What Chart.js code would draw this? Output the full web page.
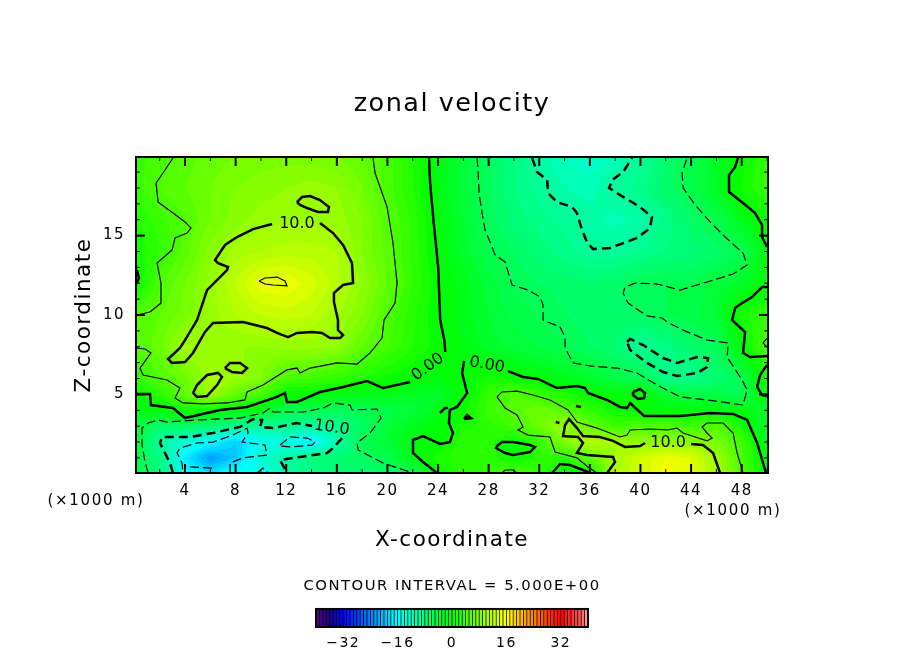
<!DOCTYPE html>
<html>
<head>
<meta charset="utf-8">
<title>zonal velocity</title>
<script src="https://cdn.jsdelivr.net/npm/chart.js@4/dist/chart.umd.min.js"></script>
<style>
  html, body { margin: 0; padding: 0; background: #fff; }
  #wrap { position: relative; width: 904px; height: 654px; overflow: hidden; }
  canvas { position: absolute; left: 0; }
  #mainChart { top: 0; }
  #barChart { top: 570px; }
</style>
</head>
<body>
<div id="wrap">
  <canvas id="mainChart" width="904" height="654"></canvas>
  <canvas id="barChart" width="904" height="84"></canvas>
</div>
<script>
/*** Text ***/
const titleText = 'zonal velocity';
const xTitle = 'X-coordinate';
const zTitle = 'Z-coordinate';
const unitText = '(×1000 m)';
const intervalText = 'CONTOUR INTERVAL = 5.000E+00';

/*** Axes ***/
const xMin = 0.125, xMax = 50.08, zMin = 0.05, zMax = 19.95;
const xLabelTicks = [4, 8, 12, 16, 20, 24, 28, 32, 36, 40, 44, 48];
const xMinorTicks = [2, 6, 10, 14, 18, 22, 26, 30, 34, 38, 42, 46, 50];
const zLabelTicks = [5, 10, 15];
const zMinorTicks = [1, 2, 3, 4, 6, 7, 8, 9, 11, 12, 13, 14, 16, 17, 18, 19];
const barLabelTicks = [-32, -16, 0, 16, 32];

/*** Colour key ***/
const paletteValues = [-40, -36, -32, -16, 0, 16, 24, 32, 38, 40];
const paletteColors = [[88, 0, 136], [30, 0, 130], [0, 0, 255], [0, 255, 255], [0, 255, 0], [255, 255, 0], [255, 128, 0], [255, 0, 0], [255, 90, 90], [255, 170, 170]];
const barLevels = [-39.5, -38.5, -37.5, -36.5, -35.5, -34.5, -33.5, -32.5, -31.5, -30.5, -29.5, -28.5, -27.5, -26.5, -25.5, -24.5, -23.5, -22.5, -21.5, -20.5, -19.5, -18.5, -17.5, -16.5, -15.5, -14.5, -13.5, -12.5, -11.5, -10.5, -9.5, -8.5, -7.5, -6.5, -5.5, -4.5, -3.5, -2.5, -1.5, -0.5, 0.5, 1.5, 2.5, 3.5, 4.5, 5.5, 6.5, 7.5, 8.5, 9.5, 10.5, 11.5, 12.5, 13.5, 14.5, 15.5, 16.5, 17.5, 18.5, 19.5, 20.5, 21.5, 22.5, 23.5, 24.5, 25.5, 26.5, 27.5, 28.5, 29.5, 30.5, 31.5, 32.5, 33.5, 34.5, 35.5, 36.5, 37.5, 38.5, 39.5];

/*** Velocity, one row per height ***/
const gridX = [0, 2, 4, 6, 8, 10, 12, 14, 16, 18, 20, 22, 24, 26, 28, 30, 32, 34, 36, 38, 40, 42, 44, 46, 48, 50];
const gridZ = [0, 1, 2, 3, 4, 5, 6, 8, 10, 12, 14, 16, 18, 20];
const uZ0 = [-4, -7.5, -15.3, -18, -14, -15.5, -10, -8, -7, -6.5, -6, -5, 0, 2.5, 3, 5.2, 3, -0.5, 0, 11, 13, 15.5, 14, 10.5, 5, 0];
const uZ1 = [-4, -8, -17, -22, -19.5, -13, -10.5, -8, -7, -6, -4.8, -1, 1.5, 3, 3, 0.1, 2.5, 2.5, 6, 10, 13, 15, 14, 10, 4.5, -1];
const uZ2 = [-3, -10, -13.5, -16, -19, -15, -14.5, -17, -11, -4.7, -3, -1, -0.1, 3, 2.5, 0.2, 3.5, 8, 11.5, 10, 9, 9.3, 8.5, 7.5, 4, -2];
const uZ3 = [-3.5, -6.5, -6.5, -7, -9.5, -10, -9, -10, -9, -6, -3.5, -1.5, -0.5, 1.5, 2.5, 4.4, 6.5, 9.8, 6, 3.8, 4.7, 4.8, 3.5, 5.5, 1, -3];
const uZ4 = [-1.5, -0.3, 1, 1, -0.5, -1.5, -4.9, -4.8, -5.4, -5.2, -4.3, -3.5, -1.5, 0.7, 3.5, 5.5, 7, 5.3, 3, 0.7, 0, -0.5, -0.5, -0.5, -0.7, -3];
const uZ5 = [0, 2.5, 6, 10, 6, 4.5, 0.1, 0, -1, -1.5, -1.5, -2, -2.5, -0.3, 3, 5.3, 3.5, 1.5, 0, -0.5, 0.3, -3, -4, -4.5, -5.2, 0.3];
const uZ6 = [3, 5, 6.5, 10.3, 9.5, 8, 4.5, 4, 3, 2, 0.5, 0.1, -1, 0, 1.5, 0.6, -0.5, -1.5, -2.5, -4.3, -4.9, -8.5, -9, -7, -5, 1.5];
const uZ8 = [5, 6.5, 10.3, 9.5, 9, 9, 9.3, 9.3, 9, 6, 4.2, 2, 0.5, -1, -2.5, -3.5, -4, -5, -6, -7, -9.5, -8.5, -6.5, -5.5, -0.3, 5];
const uZ10 = [5, 6, 7.5, 9.5, 11, 12, 12.5, 12, 10.2, 8, 4.8, 2.3, 0.1, -1.5, -3, -4.3, -5, -6, -6.5, -6.5, -6, -5, -4.5, -3, 1.5, 3];
const uZ12 = [0, 4.8, 7, 9.5, 12, 14.8, 15, 13.5, 11.5, 9, 6, 3, 0.2, -1.5, -3.5, -5.2, -6, -6.5, -7, -6.5, -5, -5, -5, -3.5, -2.5, -0.3];
const uZ14 = [1, 3, 5.5, 8.5, 10.5, 11, 11.5, 11.5, 11, 8, 5.5, 2.7, -0.3, -2.5, -4.7, -6, -7.5, -8.5, -9.5, -9.7, -9, -8, -7.5, -6.5, -5, -0.5];
const uZ16 = [2, 3.5, 5, 7, 8.5, 9.5, 9.8, 9.8, 9.6, 8, 5.3, 2.7, -0.5, -3, -5.5, -7.5, -8.5, -9.5, -10.5, -11.5, -10.5, -8.5, -6.5, -4.5, -1.5, 0.5];
const uZ18 = [3.5, 5, 6, 7, 8, 8.5, 9, 9.5, 9, 7, 4.5, 2, -1, -3.5, -5.5, -8, -9.5, -11, -11.5, -9.5, -8.5, -6.5, -4.5, -2, 1, 3.5];
const uZ20 = [3.5, 4.5, 5.5, 6.5, 7, 7.5, 7.5, 7.5, 7, 6, 4.5, 2, -1, -3.5, -5.5, -8, -10.5, -12, -13, -12, -9.5, -7, -4.5, -2.5, 0.5, 3];
const velocityRows = [uZ0, uZ1, uZ2, uZ3, uZ4, uZ5, uZ6, uZ8, uZ10, uZ12, uZ14, uZ16, uZ18, uZ20];

/*** Contour lines in km, [x, z] ***/
// level 0, thick solid
const zeroLeft = [[0.2,5.02],[1.23,5.02],[1.31,4.33],[3.05,4.14],[4,3.51],[6.77,4.02],[8.9,4.21],[11.27,4.84],[11.9,5.09],[12.06,4.52],[12.85,4.52],[14.67,5.15],[16.49,5.47],[18.39,5.84],[19.65,5.4],[21.79,5.78]];
const zeroUp = [[24.57,7.67],[24.49,8.43],[24.17,9.68],[24.01,13.02],[23.69,15.54],[23.37,18.31],[23.29,19.89]];
const zeroCentre = [[26.06,7.1],[25.9,6.35],[26.3,5.09],[25.5,4.21],[24.94,4.02],[24.86,3.2],[25.18,2.57],[24.94,2],[24.15,1.88],[22.81,2.38],[22.02,2.13],[22.02,1.31],[22.81,0.74],[23.92,0.05]];
const zeroTail = [[24.78,4.14],[24.55,4.14],[24.15,3.83]];
const zeroRight = [[29.53,6.47],[30.72,6.1],[31.9,5.97],[33.4,5.4],[34.98,5.53],[35.62,5.4],[35.85,5.09],[37.36,4.65],[38.39,4.21],[38.94,4.14],[39.18,4.46],[40.29,3.64],[43.14,3.64],[45.5,3.83],[47.32,3.77],[48.43,3.39],[49.22,1.94],[49.85,0.24],[49.93,0.05]];
const zeroLens = [[39.41,5.15],[39.97,5.34],[40.36,5.09],[40.29,4.77],[39.8,4.71],[39.41,4.96],[39.41,5.15]];
const zeroDot = [[26.06,3.45],[26.3,3.7],[26.61,3.51],[26.06,3.45]];
const zeroFloorLens = [[28.58,1.69],[29.05,2],[29.92,2],[31.27,1.81],[31.66,1.69],[31.27,1.37],[29.92,1.18],[29.3,1.31],[28.58,1.62],[28.58,1.69]];
const zeroFloorArc = [[33.01,0.05],[33.64,0.62],[34.43,0.55],[35.46,0.24],[36.01,0.05]];
const zeroTopRight = [[47.71,19.89],[47.48,19.32],[47,18.81],[47,17.74],[48.11,17.05],[49.06,16.42],[49.61,15.67],[49.61,14.91],[50,14.28]];
const zeroEdge = [[50,11.76],[49.61,11.76],[48.82,11.13],[48.03,10.75],[47.48,10.44],[47.24,9.68],[48.27,8.93],[48.11,7.61],[48.66,7.35],[50,7.42]];
const zeroEdgeLens = [[50,6.85],[49.45,6.22],[49.22,5.47],[49.61,4.96],[50,4.9]];
const zeroLeftEdge = [[0.2,12.83],[0.36,12.33],[0.2,12.01]];
const zeroSpeckA = [[34.9,4.27],[35.3,4.2]];
const zeroSpeckB = [[33.3,3.26],[33.6,3.2]];
// level 5, thin solid
const fiveTopLeft = [[3.05,19.89],[2.42,19.13],[1.71,18.31],[1.87,17.11],[3.05,16.42],[4,15.86],[4.47,15.48],[4.16,15.16],[3.21,14.85],[2.97,14.09],[1.79,13.27],[2.1,12.01],[2.1,10.75],[1.23,10.19],[0.2,10]];
const fiveLong = [[18.86,19.89],[19.02,18.94],[19.97,16.8],[20.44,14.53],[20.76,12.01],[20.6,10.75],[19.73,9.68],[19.57,8.55],[18.63,7.61],[17.6,6.91],[16.02,6.98],[13.88,6.66],[13.09,6.35],[12.85,6.66],[12.06,6.54],[10.16,5.59],[8.9,5.15],[8.74,4.65],[7.32,4.46],[5.42,4.4],[3.84,4.46],[3.21,4.77],[3.6,5.4],[2.58,5.91],[0.68,6.22],[0.44,6.66],[1.31,7.61],[0.84,7.86],[0.2,7.92]];
const fiveRight = [[28.66,4.84],[29.05,5.15],[30.24,5.21],[31.5,4.96],[32.85,4.65],[34.28,4.02],[34.98,3.26],[36.56,2.88],[38.39,2.32],[38.94,2.44],[39.18,2.76],[40.75,2.82],[42.1,2.76],[42.89,2.88],[43.37,2.57],[45.26,2.07],[45.66,2.25],[45.26,2.57],[44.87,2.95],[45.26,3.2],[46.53,3.2],[47.32,2.57],[47.64,1.31],[48.11,0.05]];
const fiveLower = [[28.66,4.84],[29.3,4.14],[30.24,3.7],[30.72,2.95],[30.32,2.76],[31.11,2.44],[32.85,2.32],[33.25,1.37],[34.98,1],[35.85,0.43],[36.56,0.05]];
const fiveFloorArc = [[29.05,0.05],[29.3,0.24],[29.92,0.24],[30.24,0.05]];
const fiveEdge = [[50,8.55],[49.69,8.24],[50,7.98]];
// level 10, thick solid
const tenMainEnd = [[14.67,15.79],[15.7,15.16],[16.49,14.41],[17.2,13.27],[17.28,12.01],[16.49,11.89],[15.77,11.38],[15.77,10.82],[16.09,9.68],[16.09,9.05],[16.49,8.74],[16.25,8.55],[15.46,8.55],[14.83,8.87],[14.04,8.93],[12.85,8.87],[12.14,8.61],[11.27,8.87],[10.48,9.18],[8.58,9.56],[6.21,9.5],[5.58,8.93],[4.63,7.61],[4,7.04],[2.97,6.98],[2.66,7.23],[3.6,7.92],[4,8.42],[4.95,9.68],[5.74,11.57],[7.32,12.83],[7.4,13.02],[6.61,13.27],[6.37,13.46],[7.16,14.41],[8.11,14.91],[9.38,15.41],[10.88,15.73]];
const tenTopLens = [[12.85,17.11],[13.25,17.43],[13.88,17.49],[14.67,17.24],[15.38,16.8],[15.3,16.49],[14.51,16.49],[13.64,16.74],[13.09,16.93],[12.85,17.11]];
const tenLensA = [[4.63,5.09],[4.95,5.59],[5.74,6.22],[6.61,6.35],[6.92,6.1],[6.53,5.59],[5.74,4.9],[4.95,4.84],[4.63,5.09]];
const tenLensB = [[7.16,6.66],[7.56,6.98],[8.35,6.98],[8.9,6.66],[8.51,6.35],[7.72,6.41],[7.16,6.66]];
const tenLowLeft = [[37.36,0.05],[37.99,0.74],[37.83,1.06],[35.77,1.18],[34.98,1.31],[35.46,1.94],[35.06,2.32],[33.88,2.38],[34.04,3.07],[34.35,3.45],[34.98,2.88],[35.46,2.38],[36.8,2.32],[37.83,2.07],[38.78,1.69],[39.97,1.75],[40.36,1.94]];
const tenLowRight = [[44,1.88],[44.95,1.81],[45.74,1.31],[46.29,0.05]];
// level 15, thin solid
const fifteenLens = [[9.85,12.14],[10.32,12.33],[11.27,12.39],[11.9,12.14],[12.06,11.83],[10.96,11.89],[10.32,11.95],[9.85,12.14]];
// level -5, thin dashed
const minusFiveMain = [[27.08,19.89],[27.16,19.13],[27.24,17.68],[27.48,16.42],[27.72,15.35],[28.27,14.28],[28.5,13.78],[29.3,13.34],[29.85,11.89],[31.11,11.57],[32.06,11.13],[32.3,10.63],[32.3,9.68],[33.64,9.24],[34.04,8.61],[34.04,7.92],[34.67,6.98],[36.01,6.79],[38.15,6.66],[39.73,6.35],[41.31,5.59],[43.14,4.84],[45.26,4.65],[48.11,4.33],[48.43,5.28],[48.03,5.91],[46.85,7.35],[46.93,8.24],[45.26,8.42],[43.37,9.05],[42.1,9.56],[41.71,9.81],[40.52,9.94],[39.02,10.75],[38.63,11.38],[38.78,11.76],[39.57,12.01],[41.31,11.95],[43.14,11.57],[44.48,11.89],[47.32,12.58],[48.43,13.15],[48.11,13.9],[46.69,14.91],[45.5,15.86],[44.32,16.93],[43.37,18],[43.29,18.94],[43.68,19.89]];
const minusFiveLow = [[1.08,0.05],[0.84,0.74],[0.6,1.81],[0.6,2.88],[1.08,3.2],[1.87,3.39],[2.58,3.26],[4.95,3.39],[8.35,3.51],[10.16,3.83],[10.72,4.14],[10.96,3.89],[13.33,3.89],[14.91,4.14],[15.7,4.46],[17.04,4.33],[17.2,4.02],[19.18,4.08],[19.49,3.51],[18.63,2.57],[17.6,1.94],[17.68,1.5],[19.65,0.68],[22.02,0.05]];
// level -10, thick dashed
const minusTenTop = [[31.43,19.89],[31.83,19],[32.62,18.5],[32.7,17.68],[33.4,17.11],[34.59,16.8],[34.98,16.42],[35.38,15.35],[35.77,14.6],[36.25,14.15],[37.59,14.22],[39.73,14.85],[40.75,15.48],[40.91,16.17],[39.97,16.8],[38.39,17.56],[37.52,18],[37.76,18.5],[38.63,19],[39.33,19.89]];
const minusTenLens = [[38.94,8.3],[39.18,8.49],[40.21,8.11],[41.79,7.29],[42.89,6.98],[44.48,7.35],[45.34,7.29],[45.26,6.72],[44.48,6.35],[42.89,6.16],[41.79,6.41],[40.52,6.98],[39.18,7.8],[38.94,8.3]];
const minusTenLowA = [[3.05,0.05],[2.81,0.68],[2.02,1.94],[2.18,2.32],[4.39,2.32],[6.21,2.57],[8.35,2.95],[9.38,3.45],[10.09,3.39],[9.93,2.95],[10.96,2.88],[12.85,3.2],[14.04,3.01]];
const minusTenLowB = [[16.41,2.25],[15.7,1.62],[15.23,1.31],[13.09,1.06],[11.51,0.87],[12.06,0.05]];
// level -15, thin dashed
const minusFifteen = [[7.56,0.05],[7.56,0.68],[8.58,1],[10.48,1.18],[10.32,1.81],[8.51,2],[8.98,2.57],[8.9,2.88],[7.79,2.44],[6.21,2],[4.95,1.94],[3.6,1.62],[3.37,1.31],[3.76,0.68],[3.84,0.05]];
const minusFifteenInner = [[11.51,1.81],[12.3,2.32],[13.64,2.25],[14.28,2],[14.04,1.81],[12.3,1.69],[11.51,1.75],[11.51,1.81]];
const minusFifteenBump = [[9.69,0.05],[10.16,0.36],[10.56,0.05]];
const minusFifteenCore = [[4.39,0.43],[6.21,0.36]];

const thickSolid = [zeroLeft, zeroUp, zeroCentre, zeroTail, zeroRight, zeroLens, zeroDot, zeroFloorLens, zeroFloorArc, zeroTopRight, zeroEdge, zeroEdgeLens, zeroLeftEdge, zeroSpeckA, zeroSpeckB, tenMainEnd, tenTopLens, tenLensA, tenLensB, tenLowLeft, tenLowRight];
const thinSolid = [fiveTopLeft, fiveLong, fiveRight, fiveLower, fiveFloorArc, fiveEdge, fifteenLens];
const thickDashed = [minusTenTop, minusTenLens, minusTenLowA, minusTenLowB];
const thinDashed = [minusFiveMain, minusFiveLow, minusFifteen, minusFifteenInner, minusFifteenBump, minusFifteenCore];

/*** Contour labels: text, x, z, angle in degrees ***/
const contourLabelText = ['10.0', '10.0', '10.0', '0.00', '0.00'];
const contourLabelX = [12.85, 42.18, 15.6, 23.2, 27.87];
const contourLabelZ = [15.73, 1.94, 2.9, 6.72, 6.85];
const contourLabelAngle = [0, 0, 8, -36, 10];

const mainFont = '"DejaVu Sans", sans-serif';

/*** Colours ***/
function colorFor(value) {
    // one flat colour per unit band, as in the key
    const band = Math.max(-39.5, Math.min(39.5, Math.floor(value) + 0.5));
    let i = 0;
    while (i < paletteValues.length - 2 && band > paletteValues[i + 1]) i++;
    const t = (band - paletteValues[i]) / (paletteValues[i + 1] - paletteValues[i]);
    const a = paletteColors[i], b = paletteColors[i + 1];
    return 'rgb(' + Math.round(a[0] + (b[0] - a[0]) * t) + ',' + Math.round(a[1] + (b[1] - a[1]) * t) + ',' + Math.round(a[2] + (b[2] - a[2]) * t) + ')';
}

function findCell(list, v) {
    let i = 0;
    while (i < list.length - 2 && v > list[i + 1]) i++;
    return i;
}

function velocityAt(x, z) {
    const i = findCell(gridX, x), j = findCell(gridZ, z);
    const tx = (x - gridX[i]) / (gridX[i + 1] - gridX[i]);
    const tz = (z - gridZ[j]) / (gridZ[j + 1] - gridZ[j]);
    const low = velocityRows[j][i] * (1 - tx) + velocityRows[j][i + 1] * tx;
    const high = velocityRows[j + 1][i] * (1 - tx) + velocityRows[j + 1][i + 1] * tx;
    return low * (1 - tz) + high * tz;
}

/*** Plugins ***/
const wideText = {
    id: 'wideText',
    beforeDraw(chart) { chart.ctx.letterSpacing = '1.5px'; }
};

const shadedField = {
    id: 'shadedField',
    beforeDatasetsDraw(chart) {
        const ctx = chart.ctx, area = chart.chartArea, xs = chart.scales.x, zs = chart.scales.y;
        ctx.save();
        for (let py = Math.floor(area.top); py < area.bottom; py++) {
            const z = zs.getValueForPixel(py + 0.5);
            let start = Math.floor(area.left), last = null;
            for (let px = start; px <= area.right; px++) {
                const c = px < area.right ? colorFor(velocityAt(xs.getValueForPixel(px + 0.5), z)) : null;
                if (c !== last) {
                    if (last) {
                        ctx.fillStyle = last;
                        ctx.fillRect(start, py, px - start, 1);
                    }
                    start = px;
                    last = c;
                }
            }
        }
        ctx.restore();
    }
};

const plotFrame = {
    id: 'plotFrame',
    afterDatasetsDraw(chart) {
        const ctx = chart.ctx, area = chart.chartArea, xs = chart.scales.x, zs = chart.scales.y;
        ctx.save();
        ctx.strokeStyle = '#000';
        ctx.lineWidth = 2;
        ctx.strokeRect(area.left, area.top, area.right - area.left, area.bottom - area.top);
        const mark = (x1, y1, x2, y2) => {
            ctx.beginPath();
            ctx.moveTo(x1, y1);
            ctx.lineTo(x2, y2);
            ctx.stroke();
        };
        xLabelTicks.concat(xMinorTicks).forEach(v => {
            const p = xs.getPixelForValue(v), len = xLabelTicks.includes(v) ? 9 : 4;
            ctx.lineWidth = xLabelTicks.includes(v) ? 2 : 1;
            mark(p, area.bottom, p, area.bottom - len);
            mark(p, area.top, p, area.top + len);
        });
        zLabelTicks.concat(zMinorTicks).forEach(v => {
            const p = zs.getPixelForValue(v), len = zLabelTicks.includes(v) ? 9 : 4;
            ctx.lineWidth = zLabelTicks.includes(v) ? 2 : 1;
            mark(area.left, p, area.left + len, p);
            mark(area.right, p, area.right - len, p);
        });

        // contour labels
        ctx.fillStyle = '#000';
        ctx.font = '16px ' + mainFont;
        ctx.letterSpacing = '0px';
        ctx.textAlign = 'center';
        ctx.textBaseline = 'middle';
        contourLabelText.forEach((t, i) => {
            ctx.save();
            ctx.translate(xs.getPixelForValue(contourLabelX[i]), zs.getPixelForValue(contourLabelZ[i]));
            ctx.rotate(contourLabelAngle[i] * Math.PI / 180);
            ctx.fillText(t, 0, 0);
            ctx.restore();
        });

        // axis units sit below the tick labels at both ends
        ctx.font = '15px ' + mainFont;
        ctx.letterSpacing = '1.7px';
        ctx.fillText(unitText, area.left - 40, area.bottom + 28);
        ctx.fillText(unitText, area.right - 35, area.bottom + 38);
        ctx.restore();
    }
};

const barBackdrop = {
    id: 'barBackdrop',
    beforeDatasetsDraw(chart) {
        const a = chart.chartArea;
        chart.ctx.fillStyle = '#000';
        chart.ctx.fillRect(a.left, a.top, a.right - a.left, a.bottom - a.top);
    },
    afterDatasetsDraw(chart) {
        const a = chart.chartArea, ctx = chart.ctx;
        ctx.save();
        ctx.strokeStyle = '#000';
        ctx.lineWidth = 2;
        ctx.strokeRect(a.left, a.top, a.right - a.left, a.bottom - a.top);
        ctx.restore();
    }
};

/*** Charts ***/
function lineSets(groups, width, dash) {
    return groups.map(pts => ({
        data: pts.map(p => ({x: p[0], y: p[1]})),
        showLine: true,
        borderColor: '#000',
        borderWidth: width,
        borderDash: dash,
        pointRadius: 0,
        tension: 0,
        fill: false
    }));
}

new Chart(document.getElementById('mainChart'), {
    type: 'scatter',
    data: {
        datasets: lineSets(thickSolid, 2.5, [])
            .concat(lineSets(thinSolid, 1.2, []))
            .concat(lineSets(thickDashed, 2.5, [9, 5]))
            .concat(lineSets(thinDashed, 1.2, [9, 4]))
    },
    options: {
        responsive: false,
        animation: false,
        layout: {padding: 0},
        plugins: {
            legend: {display: false},
            tooltip: {enabled: false},
            title: {
                display: true,
                text: titleText,
                color: '#000',
                font: {family: mainFont, size: 25.5, weight: 'normal', lineHeight: 1.2},
                padding: {top: 89, bottom: 37.4}
            }
        },
        scales: {
            x: {
                type: 'linear',
                min: xMin,
                max: xMax,
                grid: {display: false, drawTicks: false},
                border: {display: false},
                afterBuildTicks(scale) { scale.ticks = xLabelTicks.map(v => ({value: v})); },
                afterFit(scale) { scale.height = 181; },
                ticks: {color: '#000', font: {family: mainFont, size: 15}, padding: 9, maxRotation: 0, autoSkip: false},
                title: {display: true, text: xTitle, color: '#000', font: {family: mainFont, size: 21.5}, padding: {top: 0, bottom: 101}}
            },
            y: {
                type: 'linear',
                min: zMin,
                max: zMax,
                grid: {display: false, drawTicks: false},
                border: {display: false},
                afterBuildTicks(scale) { scale.ticks = zLabelTicks.map(v => ({value: v})); },
                afterFit(scale) { scale.width = 136; },
                ticks: {color: '#000', font: {family: mainFont, size: 15}, padding: 11, autoSkip: false},
                title: {display: true, text: zTitle, color: '#000', font: {family: mainFont, size: 21.5}, padding: {top: 72, bottom: 0}}
            },
            // empty margin on the right keeps the title centred on the page
            rightMargin: {
                type: 'linear',
                position: 'right',
                grid: {display: false, drawTicks: false},
                border: {display: false},
                ticks: {display: false},
                afterFit(scale) { scale.width = 136; }
            }
        }
    },
    plugins: [wideText, shadedField, plotFrame]
});

new Chart(document.getElementById('barChart'), {
    type: 'bar',
    data: {
        datasets: [{
            data: barLevels.map(v => ({x: v, y: 1})),
            backgroundColor: barLevels.map(colorFor),
            barThickness: 2,
            borderWidth: 0
        }]
    },
    options: {
        responsive: false,
        animation: false,
        layout: {padding: 0},
        plugins: {
            legend: {display: false},
            tooltip: {enabled: false},
            title: {
                display: true,
                text: intervalText,
                color: '#000',
                font: {family: mainFont, size: 14.8, weight: 'normal', lineHeight: 1.2},
                padding: {top: 7, bottom: 14.2}
            }
        },
        scales: {
            x: {
                type: 'linear',
                offset: false,
                min: -40,
                max: 40,
                grid: {display: false, drawTicks: false},
                border: {display: false},
                afterBuildTicks(scale) { scale.ticks = barLabelTicks.map(v => ({value: v})); },
                afterFit(scale) { scale.height = 27; },
                ticks: {
                    color: '#000',
                    font: {family: mainFont, size: 14},
                    padding: 8,
                    maxRotation: 0,
                    autoSkip: false,
                    callback: v => String(v).replace('-', '−')
                }
            },
            y: {
                min: 0,
                max: 1,
                grid: {display: false, drawTicks: false},
                border: {display: false},
                ticks: {display: false},
                afterFit(scale) { scale.width = 316; }
            },
            rightMargin: {
                type: 'linear',
                position: 'right',
                grid: {display: false, drawTicks: false},
                border: {display: false},
                ticks: {display: false},
                afterFit(scale) { scale.width = 316; }
            }
        }
    },
    plugins: [wideText, barBackdrop]
});
</script>
</body>
</html>
